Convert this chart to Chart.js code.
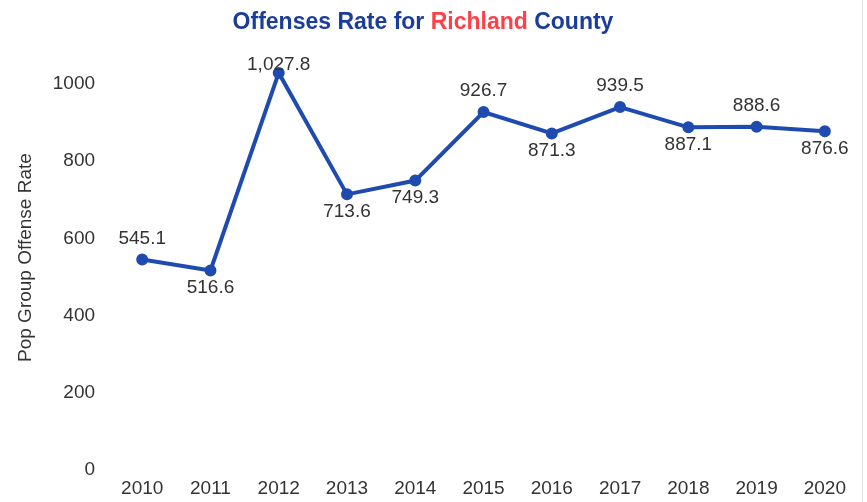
<!DOCTYPE html>
<html lang="en">
<head>
  <meta charset="UTF-8" />
  <title>Offenses Rate for Richland County</title>
  <script src="https://cdn.jsdelivr.net/npm/chart.js"></script>
  <style>
    body {
      margin: 0;
      padding: 0;
      background: #fff;
      overflow: hidden;
    }
    #wrap {
      position: relative;
      width: 867px;
      height: 502px;
    }
    #edge {
      position: absolute;
      left: 862px;
      top: 0;
      width: 1px;
      height: 502px;
      background: #e4e4e4;
    }
  </style>
</head>
<body>
  <div id="wrap">
    <canvas id="rateChart" width="867" height="502"></canvas>
    <div id="edge"></div>
  </div>

  <script>
    const years = ['2010', '2011', '2012', '2013', '2014', '2015', '2016', '2017', '2018', '2019', '2020'];
    const offenseRates = [545.1, 516.6, 1027.8, 713.6, 749.3, 926.7, 871.3, 939.5, 887.1, 888.6, 876.6];
    const yTicks = [0, 200, 400, 600, 800, 1000];

    // which labels sit above the point (rest go below)
    const labelAbove = [true, false, true, false, false, true, false, true, false, true, false];

    const FONT = "'Liberation Sans', Arial, sans-serif";
    const TEXT = '#333';

    const titlePlugin = {
      id: 'mixedTitle',
      afterDraw(chart) {
        const ctx = chart.ctx;
        const parts = [
          ['Offenses Rate for ', '#1a3d9c'],
          ['Richland', '#ff4048'],
          [' County', '#1a3d9c']
        ];
        ctx.save();
        ctx.font = 'bold 23px ' + FONT;
        ctx.textBaseline = 'middle';
        ctx.textAlign = 'left';
        const total = parts.reduce((w, p) => w + ctx.measureText(p[0]).width, 0);
        let x = 423 - total / 2;
        parts.forEach(p => {
          ctx.fillStyle = p[1];
          ctx.fillText(p[0], x, 23);
          x += ctx.measureText(p[0]).width;
        });
        ctx.restore();
      }
    };

    const valueLabels = {
      id: 'valueLabels',
      afterDatasetsDraw(chart) {
        const ctx = chart.ctx;
        const meta = chart.getDatasetMeta(0);
        ctx.save();
        ctx.font = '19px ' + FONT;
        ctx.fillStyle = TEXT;
        ctx.textAlign = 'center';
        ctx.textBaseline = 'middle';
        meta.data.forEach((pt, i) => {
          const txt = offenseRates[i].toLocaleString('en-US', { minimumFractionDigits: 1 });
          let y = labelAbove[i] ? pt.y - 21 : pt.y + 17;
          y = Math.max(y, chart.chartArea.top + 20);
          ctx.fillText(txt, pt.x, y);
        });
        ctx.restore();
      }
    };

    new Chart(document.getElementById('rateChart').getContext('2d'), {
      type: 'line',
      data: {
        labels: years,
        datasets: [{
          data: offenseRates,
          borderColor: '#1f4bb0',
          backgroundColor: '#1f4bb0',
          borderWidth: 4,
          pointRadius: 4,
          pointHoverRadius: 4,
          tension: 0
        }]
      },
      options: {
        responsive: false,
        animation: false,
        layout: {
          padding: { top: 45, right: 8, bottom: -5, left: 14 }
        },
        plugins: {
          legend: { display: false },
          tooltip: { enabled: false }
        },
        scales: {
          x: {
            offset: true,
            grid: { display: false, drawTicks: false },
            border: { display: false },
            ticks: {
              color: TEXT,
              font: { family: FONT, size: 19 },
              padding: 7,
              maxRotation: 0
            }
          },
          y: {
            min: 0,
            max: 1100,
            grid: { display: false, drawTicks: false },
            border: { display: false },
            afterBuildTicks(axis) {
              axis.ticks = yTicks.map(v => ({ value: v }));
            },
            ticks: {
              color: TEXT,
              font: { family: FONT, size: 19 },
              padding: 13,
              callback: v => String(v)
            },
            title: {
              display: true,
              text: 'Pop Group Offense Rate',
              color: TEXT,
              font: { family: FONT, size: 19 },
              padding: { top: 0, bottom: 3 }
            }
          }
        }
      },
      plugins: [titlePlugin, valueLabels]
    });
  </script>
</body>
</html>
